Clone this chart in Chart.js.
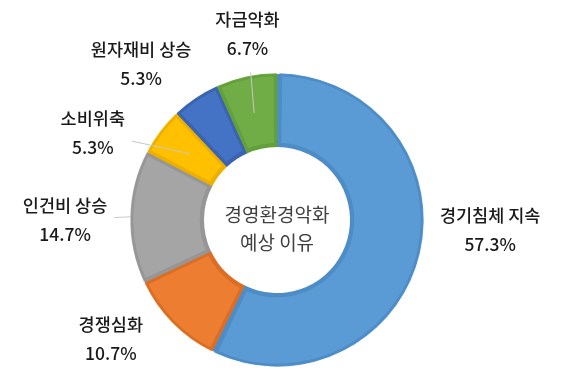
<!DOCTYPE html>
<html>
<head>
<meta charset="utf-8">
<script src="https://cdn.jsdelivr.net/npm/chart.js@4.4.1/dist/chart.umd.min.js"></script>
<style>
    body { margin: 0; background: #fff; }
    #wrap { width: 567px; height: 382px; }
</style>
</head>
<body>
<div id="wrap"><canvas id="chart" width="567" height="382"></canvas></div>
<script>
const categories = ['경기침체 지속', '경쟁심화', '인건비 상승', '소비위축', '원자재비 상승', '자금악화'];
const shares = [57.3, 10.7, 14.7, 5.3, 5.3, 6.7];
const centerTitle = ['경영환경악화', '예상 이유'];

const sliceColors = ['#5B9BD5', '#ED7D31', '#A5A5A5', '#FFC000', '#4472C4', '#70AD47'];
const edgeColors = ['#4E8CC5', '#DA6E25', '#969696', '#EDB000', '#3B64B0', '#63A03C'];
// label placement relative to the outer edge of each slice (px)
const labelShift = [[71, -23], [-62, 17], [-66, 3], [-68, 1], [-55, -35], [1, -43]];
const hasLeader = [false, false, true, true, false, true];
// where the leader stops: 0 = inner edge, 1 = outer edge
const leaderDepth = [0.5, 0.5, 1, 0.5, 0.5, 0.5];

const fontFamily = '"Noto Sans CJK KR", "Noto Sans", sans-serif';

const labelPlugin = {
    id: 'outerLabels',
    afterDatasetsDraw(chart) {
        const ctx = chart.ctx;
        const arcs = chart.getDatasetMeta(0).data;
        ctx.save();
        ctx.font = '500 17.5px ' + fontFamily;
        ctx.textAlign = 'center';
        ctx.textBaseline = 'middle';

        arcs.forEach((arc, i) => {
            const p = arc.getProps(['x', 'y', 'startAngle', 'endAngle', 'innerRadius', 'outerRadius'], true);
            const mid = (p.startAngle + p.endAngle) / 2;
            const cx = p.x + Math.cos(mid) * p.outerRadius + labelShift[i][0];
            const cy = p.y + Math.sin(mid) * p.outerRadius + labelShift[i][1];
            const lines = [categories[i], shares[i].toFixed(1) + '%'];

            if (hasLeader[i]) {
                const rm = p.innerRadius + (p.outerRadius - p.innerRadius) * leaderDepth[i];
                const ex = p.x + Math.cos(mid) * rm;
                const ey = p.y + Math.sin(mid) * rm;
                const hw = ctx.measureText(lines[0]).width / 2 + 7;
                const hh = 38;
                const dx = ex - cx, dy = ey - cy;
                const t = Math.min(hw / Math.abs(dx || 1e-6), hh / Math.abs(dy || 1e-6));
                ctx.strokeStyle = '#C8C8C8';
                ctx.lineWidth = 1;
                ctx.beginPath();
                ctx.moveTo(cx + dx * t, cy + dy * t);
                ctx.lineTo(ex, ey);
                ctx.stroke();
            }

            ctx.fillStyle = '#1A1A1A';
            ctx.fillText(lines[0], cx, cy - 14.5);
            ctx.fillText(lines[1], cx, cy + 14.5);
        });

        const a0 = arcs[0];
        ctx.fillStyle = '#404040';
        ctx.font = '19px ' + fontFamily;
        ctx.fillText(centerTitle[0], a0.x, a0.y - 5);
        ctx.fillText(centerTitle[1], a0.x, a0.y + 23);
        ctx.restore();
    }
};

const ctx = document.getElementById('chart').getContext('2d');
const chart = new Chart(ctx, {
    type: 'doughnut',
    data: {
        labels: categories,
        datasets: [{
            data: shares,
            backgroundColor: sliceColors,
            borderColor: edgeColors,
            borderWidth: 3,
            borderAlign: 'inner',
            spacing: 2
        }]
    },
    options: {
        responsive: false,
        animation: false,
        devicePixelRatio: 1,
        cutout: '50%',
        layout: {
            padding: { top: 72, bottom: 14, left: 130, right: 143 }
        },
        plugins: {
            legend: { display: false },
            tooltip: { enabled: false }
        }
    },
    plugins: [labelPlugin]
});
</script>
</body>
</html>
